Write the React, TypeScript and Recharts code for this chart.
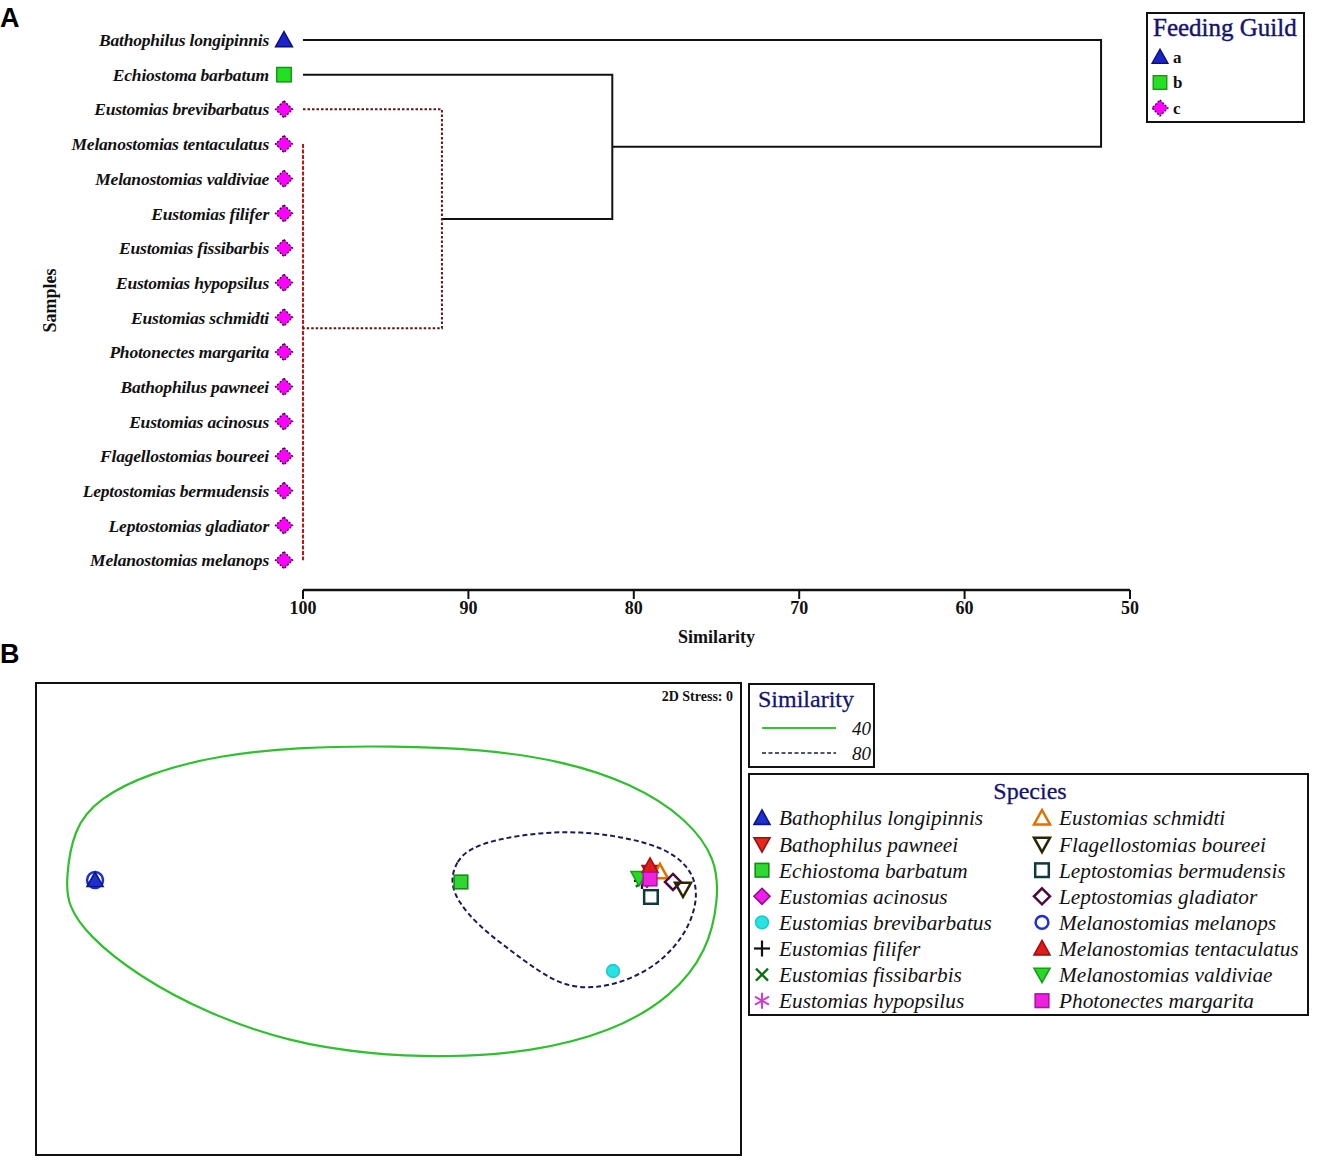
import { ComposedChart, ScatterChart, Scatter, XAxis, YAxis } from "recharts"

// ---- Panel A: dendrogram ----
const leafNames = [
  "Bathophilus longipinnis",
  "Echiostoma barbatum",
  "Eustomias brevibarbatus",
  "Melanostomias tentaculatus",
  "Melanostomias valdiviae",
  "Eustomias filifer",
  "Eustomias fissibarbis",
  "Eustomias hypopsilus",
  "Eustomias schmidti",
  "Photonectes margarita",
  "Bathophilus pawneei",
  "Eustomias acinosus",
  "Flagellostomias boureei",
  "Leptostomias bermudensis",
  "Leptostomias gladiator",
  "Melanostomias melanops",
]
const leafGuild = ["a", "b", "c", "c", "c", "c", "c", "c", "c", "c", "c", "c", "c", "c", "c", "c"]
const rowTicks = leafNames.map((_, i) => i)
const simTicks = [100, 90, 80, 70, 60, 50]

// links as [similarity, row] polylines
const trunkLink = [[100, 0], [51.75, 0], [51.75, 3.08], [81.3, 3.08]]
const echioLink = [[100, 1], [81.3, 1], [81.3, 5.16], [91.6, 5.16]]
const breviLink = [[100, 2], [91.6, 2], [91.6, 8.31], [100, 8.31]]
const groupCLink = [[100, 3], [100, 15]]

const guildKeys = ["a", "b", "c"]

// ---- Panel B: nMDS ----
const speciesNames = [
  "Bathophilus longipinnis",
  "Bathophilus pawneei",
  "Echiostoma barbatum",
  "Eustomias acinosus",
  "Eustomias brevibarbatus",
  "Eustomias filifer",
  "Eustomias fissibarbis",
  "Eustomias hypopsilus",
  "Eustomias schmidti",
  "Flagellostomias boureei",
  "Leptostomias bermudensis",
  "Leptostomias gladiator",
  "Melanostomias melanops",
  "Melanostomias tentaculatus",
  "Melanostomias valdiviae",
  "Photonectes margarita",
]
const speciesX = [-1.665, 1.484, 0.411, 1.467, 1.274, 1.438, 1.438, 1.467, 1.54, 1.671, 1.489, 1.614, -1.665, 1.484, 1.421, 1.484]
const speciesY = [0.221, 0.267, 0.21, 0.227, -0.295, 0.216, 0.216, 0.221, 0.267, 0.17, 0.125, 0.21, 0.221, 0.301, 0.233, 0.227]
const drawOrder = [6, 5, 7, 3, 1, 14, 8, 13, 15, 10, 11, 9, 4, 2, 12, 0]

const contour40 = [
  [-1.83, 0.22], [-1.79, 0.51], [-1.645, 0.685], [-1.36, 0.827], [-0.96, 0.93], [-0.5, 0.976],
  [0.02, 0.982], [0.52, 0.964], [0.98, 0.9], [1.38, 0.77], [1.695, 0.57], [1.862, 0.338],
  [1.872, 0.105], [1.81, -0.18], [1.61, -0.44], [1.265, -0.642], [0.806, -0.755], [0.35, -0.785],
  [-0.105, -0.768], [-0.565, -0.698], [-1.022, -0.538], [-1.42, -0.325], [-1.707, -0.093], [-1.82, 0.08],
]
const contour80 = [
  [0.35, 0.212], [0.385, 0.33], [0.468, 0.405], [0.63, 0.456], [0.86, 0.49], [1.088, 0.496],
  [1.318, 0.468], [1.548, 0.41], [1.688, 0.316], [1.752, 0.194], [1.74, 0.05], [1.676, -0.096],
  [1.548, -0.242], [1.372, -0.345], [1.172, -0.397], [0.996, -0.379], [0.852, -0.297], [0.68, -0.17],
  [0.508, -0.036], [0.394, 0.098],
]

const FONT = "'Liberation Serif', 'Times New Roman', serif"
const NAVY = "#14146e"

const markerStyle: Record<string, { kind: string; fill: string; stroke: string }> = {
  "Bathophilus longipinnis": { kind: "tri", fill: "#1f2fd6", stroke: "#0c1580" },
  "Bathophilus pawneei": { kind: "triDown", fill: "#e8241c", stroke: "#9a1010" },
  "Echiostoma barbatum": { kind: "square", fill: "#2fd82f", stroke: "#178a17" },
  "Eustomias acinosus": { kind: "diamond", fill: "#f01cf0", stroke: "#8a1080" },
  "Eustomias brevibarbatus": { kind: "circle", fill: "#27e3e3", stroke: "#22c8c8" },
  "Eustomias filifer": { kind: "plus", fill: "none", stroke: "#111" },
  "Eustomias fissibarbis": { kind: "cross", fill: "none", stroke: "#0b6e12" },
  "Eustomias hypopsilus": { kind: "star", fill: "none", stroke: "#d23ad2" },
  "Eustomias schmidti": { kind: "tri", fill: "none", stroke: "#e07000" },
  "Flagellostomias boureei": { kind: "triDown", fill: "none", stroke: "#2a2600" },
  "Leptostomias bermudensis": { kind: "square", fill: "none", stroke: "#0f3a3a" },
  "Leptostomias gladiator": { kind: "diamond", fill: "none", stroke: "#4a0a3e" },
  "Melanostomias melanops": { kind: "circle", fill: "none", stroke: "#1c2fd6" },
  "Melanostomias tentaculatus": { kind: "tri", fill: "#e41a1a", stroke: "#a01010" },
  "Melanostomias valdiviae": { kind: "triDown", fill: "#27d827", stroke: "#17a017" },
  "Photonectes margarita": { kind: "square", fill: "#ee22dd", stroke: "#b010b0" },
}

const guildStyle: Record<string, { kind: string; fill: string; stroke: string }> = {
  a: { kind: "tri", fill: "#1a22cc", stroke: "#0a0f70" },
  b: { kind: "square", fill: "#22e022", stroke: "#139013" },
  c: { kind: "diamond", fill: "#ff00ff", stroke: "#3a0a3a" },
}

function Marker({ kind, cx, cy, s, fill, stroke, sw = 1.6, dash }: any) {
  const w = fill === "none" ? 2.5 : sw
  const common = { fill, stroke, strokeWidth: w, strokeDasharray: dash }
  switch (kind) {
    case "tri":
      return <polygon points={`${cx},${cy - s} ${cx + s},${cy + s * 0.8} ${cx - s},${cy + s * 0.8}`} {...common} />
    case "triDown":
      return <polygon points={`${cx - s},${cy - s * 0.8} ${cx + s},${cy - s * 0.8} ${cx},${cy + s}`} {...common} />
    case "square":
      return <rect x={cx - s * 0.85} y={cy - s * 0.85} width={s * 1.7} height={s * 1.7} {...common} />
    case "diamond":
      return <polygon points={`${cx},${cy - s} ${cx + s},${cy} ${cx},${cy + s} ${cx - s},${cy}`} {...common} />
    case "circle":
      return <circle cx={cx} cy={cy} r={s * 0.8} {...common} />
    case "plus":
      return (
        <g stroke={stroke} strokeWidth={2.2}>
          <line x1={cx - s} y1={cy} x2={cx + s} y2={cy} />
          <line x1={cx} y1={cy - s} x2={cx} y2={cy + s} />
        </g>
      )
    case "cross":
      return (
        <g stroke={stroke} strokeWidth={2.4}>
          <line x1={cx - s * 0.75} y1={cy - s * 0.75} x2={cx + s * 0.75} y2={cy + s * 0.75} />
          <line x1={cx - s * 0.75} y1={cy + s * 0.75} x2={cx + s * 0.75} y2={cy - s * 0.75} />
        </g>
      )
    case "star":
      return (
        <g stroke={stroke} strokeWidth={2}>
          <line x1={cx} y1={cy - s} x2={cx} y2={cy + s} />
          <line x1={cx - s * 0.87} y1={cy - s * 0.5} x2={cx + s * 0.87} y2={cy + s * 0.5} />
          <line x1={cx - s * 0.87} y1={cy + s * 0.5} x2={cx + s * 0.87} y2={cy - s * 0.5} />
        </g>
      )
    default:
      return <g />
  }
}

const toPts = (arr: number[][]) => arr.map(([x, y]) => ({ x, y }))
const noDot = () => <g />

function LeafTick({ y, payload }: any) {
  const i = payload.value
  const g = guildStyle[leafGuild[i]]
  return (
    <g>
      <text
        x={269}
        y={y}
        dy="0.35em"
        textAnchor="end"
        fontFamily={FONT}
        fontStyle="italic"
        fontWeight="bold"
        fontSize={17.5}
        letterSpacing={-0.2}
        fill="#111"
      >
        {leafNames[i]}
      </text>
      <Marker {...g} cx={284} cy={y} s={8.5} sw={1.4} dash={g.kind === "diamond" ? "2 1.5" : undefined} />
    </g>
  )
}

function FeedingLegend() {
  return (
    <svg width={159} height={111} style={{ position: "absolute", left: 1146, top: 12, border: "2px solid #111", boxSizing: "border-box" }}>
      <text x={5} y={22} fontFamily={FONT} fontSize={25} fill={NAVY} stroke={NAVY} strokeWidth={0.4}>Feeding Guild</text>
      {guildKeys.map((k, i) => (
        <g key={k}>
          <Marker {...guildStyle[k]} cx={12} cy={43 + i * 25.5} s={8} sw={1.3} dash={k === "c" ? "2 1.5" : undefined} />
          <text x={25} y={43 + i * 25.5} dy="0.35em" fontFamily={FONT} fontWeight="bold" fontSize={17} fill="#111">{k}</text>
        </g>
      ))}
    </svg>
  )
}

function SimilarityLegend() {
  return (
    <svg width={127} height={85} style={{ position: "absolute", left: 748, top: 683, border: "2px solid #111", boxSizing: "border-box" }}>
      <text x={8} y={22} fontFamily={FONT} fontSize={24} fill={NAVY} stroke={NAVY} strokeWidth={0.3}>Similarity</text>
      <line x1={12} y1={43} x2={86} y2={43} stroke="#2fc92f" strokeWidth={2} />
      <text x={121} y={43} dy="0.35em" textAnchor="end" fontFamily={FONT} fontStyle="italic" fontSize={19} fill="#111">40</text>
      <line x1={12} y1={68} x2={86} y2={68} stroke="#1a1a4a" strokeWidth={1.5} strokeDasharray="4 2.5" />
      <text x={121} y={68} dy="0.35em" textAnchor="end" fontFamily={FONT} fontStyle="italic" fontSize={19} fill="#111">80</text>
    </svg>
  )
}

function SpeciesLegend() {
  return (
    <svg width={561} height={243} style={{ position: "absolute", left: 748, top: 773, border: "2px solid #111", boxSizing: "border-box" }}>
      <text x={280} y={24} textAnchor="middle" fontFamily={FONT} fontSize={24} fill={NAVY} stroke={NAVY} strokeWidth={0.3}>Species</text>
      {speciesNames.map((name, i) => {
        const col = i < 8 ? 0 : 1
        const row = i % 8
        const cy = 43 + row * 26.1
        const ix = col === 0 ? 12 : 292
        return (
          <g key={name}>
            <Marker {...markerStyle[name]} cx={ix} cy={cy} s={8} />
            <text x={ix + 17} y={cy} dy="0.35em" fontFamily={FONT} fontStyle="italic" fontSize={21.3} fill="#111">{name}</text>
          </g>
        )
      })}
    </svg>
  )
}

export default function App() {
  return (
    <div style={{ position: "absolute", left: 0, top: 0, width: 1321, height: 1163, background: "#fff", fontFamily: FONT }}>
      <div style={{ position: "absolute", left: 0, top: 3, fontFamily: "'Liberation Sans', Arial, sans-serif", fontWeight: "bold", fontSize: 27 }}>A</div>
      <div style={{ position: "absolute", left: 0, top: 639, fontFamily: "'Liberation Sans', Arial, sans-serif", fontWeight: "bold", fontSize: 27 }}>B</div>

      <div style={{ position: "absolute", left: 0, top: 0 }}>
        <ComposedChart width={1140} height={660} margin={{ top: 23, right: 10, bottom: 0, left: 0 }}>
          <XAxis
            type="number"
            dataKey="x"
            domain={[50, 100]}
            reversed
            ticks={simTicks}
            height={70}
            axisLine={{ stroke: "#111", strokeWidth: 2.5 }}
            tickLine={{ stroke: "#111", strokeWidth: 2 }}
            tickSize={9}
            tick={{ fill: "#111", fontFamily: FONT, fontWeight: "bold", fontSize: 18 }}
            label={{ value: "Similarity", position: "insideBottom", offset: 17, fill: "#111", fontFamily: FONT, fontWeight: "bold", fontSize: 18 }}
          />
          <YAxis
            type="number"
            dataKey="y"
            domain={[-0.49, 15.86]}
            reversed
            ticks={rowTicks}
            allowDataOverflow
            width={303}
            axisLine={false}
            tickLine={false}
            interval={0}
            tick={<LeafTick />}
            label={(props: any) => {
              const vb = props.viewBox
              const cy = vb.y + vb.height / 2 - 6
              return (
                <text x={50} y={cy} transform={`rotate(-90 50 ${cy})`} textAnchor="middle" dy="0.35em" fontFamily={FONT} fontWeight="bold" fontSize={18} fill="#111">
                  Samples
                </text>
              )
            }}
          />
          <Scatter data={toPts(groupCLink)} line={{ stroke: "#c21414", strokeWidth: 2, strokeDasharray: "4 1.5", fill: "none" }} shape={noDot} isAnimationActive={false} />
          <Scatter data={toPts(trunkLink)} line={{ stroke: "#111", strokeWidth: 2, fill: "none" }} shape={noDot} isAnimationActive={false} />
          <Scatter data={toPts(echioLink)} line={{ stroke: "#111", strokeWidth: 2, fill: "none" }} shape={noDot} isAnimationActive={false} />
          <Scatter data={toPts(breviLink)} line={{ stroke: "#5a1a1a", strokeWidth: 2, strokeDasharray: "2.5 2", fill: "none" }} shape={noDot} isAnimationActive={false} />
        </ComposedChart>
      </div>
      <FeedingLegend />

      <div style={{ position: "absolute", left: 35, top: 682, width: 707, height: 474, border: "2px solid #111", boxSizing: "border-box" }} />
      <div style={{ position: "absolute", left: 36, top: 683 }}>
        <ScatterChart width={705} height={472} margin={{ top: 0, right: 0, bottom: 0, left: 0 }}>
          <XAxis type="number" dataKey="x" domain={[-2, 2]} hide allowDataOverflow />
          <YAxis type="number" dataKey="y" domain={[-1.339, 1.339]} hide allowDataOverflow />
          <Scatter data={toPts(contour40)} line={{ stroke: "#2fbf2f", strokeWidth: 2.2, fill: "none" }} lineJointType="basisClosed" shape={noDot} isAnimationActive={false} />
          <Scatter data={toPts(contour80)} line={{ stroke: "#1a1a55", strokeWidth: 2, strokeDasharray: "5 3", fill: "none" }} lineJointType="basisClosed" shape={noDot} isAnimationActive={false} />
          {drawOrder.map((i) => {
            const name = speciesNames[i]
            const st = markerStyle[name]
            return (
              <Scatter
                key={name}
                name={name}
                data={[{ x: speciesX[i], y: speciesY[i] }]}
                shape={(p: any) => <Marker {...st} cx={p.cx} cy={p.cy} s={name === "Melanostomias melanops" ? 10 : 8} />}
                isAnimationActive={false}
              />
            )
          })}
        </ScatterChart>
      </div>
      <div style={{ position: "absolute", left: 600, top: 689, width: 133, textAlign: "right", fontFamily: FONT, fontWeight: "bold", fontSize: 14, color: "#111" }}>
        2D Stress: 0
      </div>
      <SimilarityLegend />
      <SpeciesLegend />
    </div>
  )
}
